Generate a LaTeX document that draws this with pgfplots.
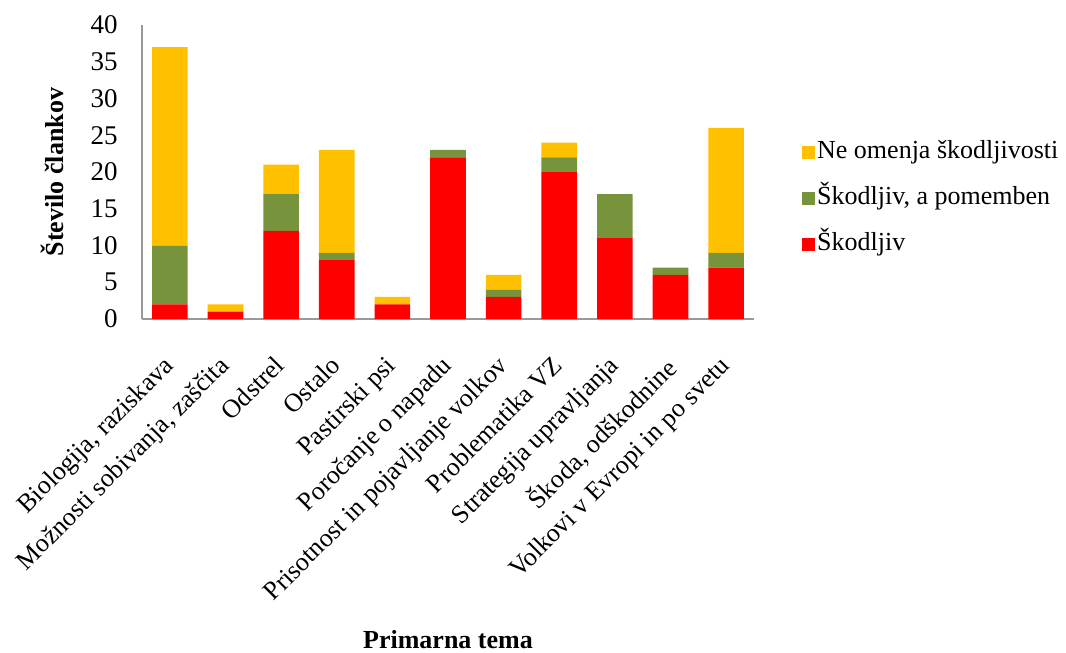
\documentclass[border=0pt]{standalone}
\usepackage{pgfplots}
\pgfplotsset{compat=1.18}
\usepackage{fontspec}
\setmainfont{Liberation Serif}
\definecolor{cyel}{HTML}{FFC000}
\definecolor{cgrn}{HTML}{77933C}
\definecolor{cred}{HTML}{FF0000}
\begin{document}
\begin{tikzpicture}
\path[use as bounding box] (-71pt,-167pt) rectangle (462pt,159.5pt);
\begin{axis}[
  at={(0,0)}, anchor=south west,
  scale only axis,
  width=306pt, height=147pt,
  ybar stacked, bar width=17.8pt,
  xmin=-0.5, xmax=10.5, ymin=0, ymax=40,
  ytick={0,5,...,40},
  xtick=data,
  xticklabels={{Biologija, raziskava},{Možnosti sobivanja, zaščita},Odstrel,Ostalo,Pastirski psi,{Poročanje o napadu},{Prisotnost in pojavljanje volkov},{Problematika VZ},{Strategija upravljanja},{Škoda, odškodnine},{Volkovi v Evropi in po svetu}},
  x tick label style={xshift=-4pt, yshift=-17.5pt, rotate=45, anchor=north east, font=\fontsize{13}{13}\selectfont, inner sep=0pt},
  y tick label style={font=\fontsize{13.5}{13.5}\selectfont, inner sep=0pt, xshift=-12pt},
  /pgf/number format/assume math mode=true,
  axis lines*=left,
  axis line style={draw=gray!80, line width=0.8pt},
  major tick length=0pt,
  ylabel={\textbf{Število člankov}},
  ylabel style={font=\fontsize{13}{13}\selectfont, at={(axis description cs:0,0.5)}, anchor=south, yshift=35.5pt},
  xlabel={\textbf{Primarna tema}},
  xlabel style={font=\fontsize{13}{13}\selectfont, at={(axis description cs:0.5,0)}, anchor=center, yshift=-160.5pt},
  legend style={draw=none, fill=none, at={(1.0715,0.63)}, anchor=north west, font=\fontsize{13}{13}\selectfont, row sep=9pt, inner sep=2pt,
    nodes={inner sep=1pt, text height=9pt, text depth=3pt}},
  legend cell align=left,
  reverse legend,
  legend image code/.code={\draw[#1, draw=none] (-2pt,-3.25pt) rectangle (4.5pt,3.25pt);},
]
\addplot[fill=cred, draw=none] coordinates {(0,2) (1,1) (2,12) (3,8) (4,2) (5,22) (6,3) (7,20) (8,11) (9,6) (10,7)};
\addplot[fill=cgrn, draw=none] coordinates {(0,8) (1,0) (2,5) (3,1) (4,0) (5,1) (6,1) (7,2) (8,6) (9,1) (10,2)};
\addplot[fill=cyel, draw=none] coordinates {(0,27) (1,1) (2,4) (3,14) (4,1) (5,0) (6,2) (7,2) (8,0) (9,0) (10,17)};
\legend{Škodljiv, {Škodljiv, a pomemben}, Ne omenja škodljivosti}
\end{axis}
\end{tikzpicture}
\end{document}
